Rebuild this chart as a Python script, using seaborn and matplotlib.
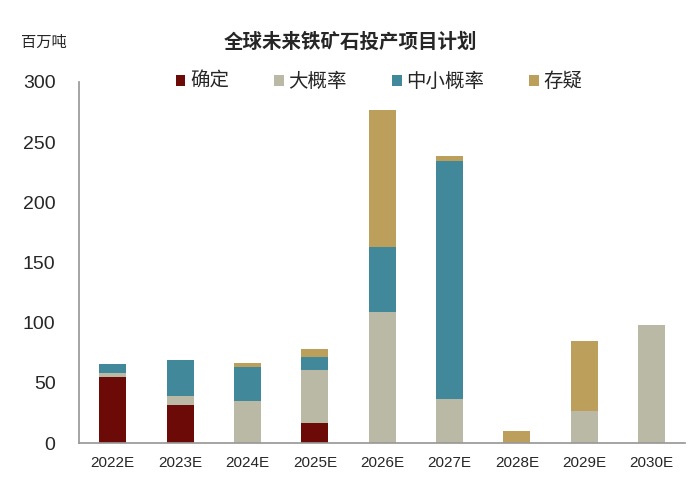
import numpy as np
import pandas as pd
import matplotlib
matplotlib.use("Agg")
import matplotlib.pyplot as plt
import seaborn as sns
from matplotlib.patches import Patch

# data (百万吨)
years = ["2022E", "2023E", "2024E", "2025E", "2026E", "2027E", "2028E", "2029E", "2030E"]
queding = [55, 32, 0, 17, 0, 0, 0, 0, 0]          # 确定
dagailv = [3, 7, 35, 44, 109, 37, 0, 27, 98]      # 大概率
zhongxiao = [8, 30, 28, 10.5, 53.5, 197.5, 0, 0, 0]  # 中小概率
cunyi = [0, 0, 3.5, 6.5, 114.5, 3.5, 10, 57.5, 0]    # 存疑

series = ["确定", "大概率", "中小概率", "存疑"]
colors = ["#6b0a06", "#b9b9a6", "#42889b", "#bd9f5c"]

sns.set_theme(style="white")
plt.rcParams["font.family"] = ["Liberation Sans", "Noto Sans CJK SC"]

df = pd.DataFrame({"year": years, "确定": queding, "大概率": dagailv,
                   "中小概率": zhongxiao, "存疑": cunyi})
# cumulative heights, drawn from the top segment down so each covers the rest
cum = df[series].cumsum(axis=1)

fig = plt.figure(figsize=(7, 4.87), dpi=100)
ax = fig.add_axes([0.113, 0.090, 0.866, 0.742])

for name, col in reversed(list(zip(series, colors))):
    sns.barplot(x=df["year"], y=cum[name], color=col, width=0.4,
                saturation=1, linewidth=0, ax=ax)

ax.set_ylim(0, 300)
ax.set_xlim(-0.5, 8.5)
ax.set_yticks(range(0, 301, 50))
ax.set_xlabel("")
ax.set_ylabel("")
ax.tick_params(axis="y", labelsize=14, length=0, pad=17)
ax.tick_params(axis="x", which="major", labelsize=11, length=0, pad=9)
ax.set_xticks(np.arange(-0.5, 9, 1), minor=True)
ax.tick_params(axis="x", which="minor", length=4, color="#888888", direction="out")

for s in ["top", "right"]:
    ax.spines[s].set_visible(False)
ax.spines["left"].set_color("#999999")
ax.spines["bottom"].set_color("#999999")

handles = [Patch(facecolor=c, edgecolor="none") for c in colors]
ax.legend(handles, series, loc="center", bbox_to_anchor=(0.495, 1.0), ncol=4,
          frameon=False, fontsize=14, handlelength=0.5, handleheight=0.5,
          handletextpad=0.25, columnspacing=2.3)

fig.text(0.5, 0.913, "全球未来铁矿石投产项目计划", ha="center", va="center",
         fontsize=14, fontweight="bold")
fig.text(0.03, 0.913, "百万吨", ha="left", va="center", fontsize=11)

fig.savefig("out.png", dpi=100)
